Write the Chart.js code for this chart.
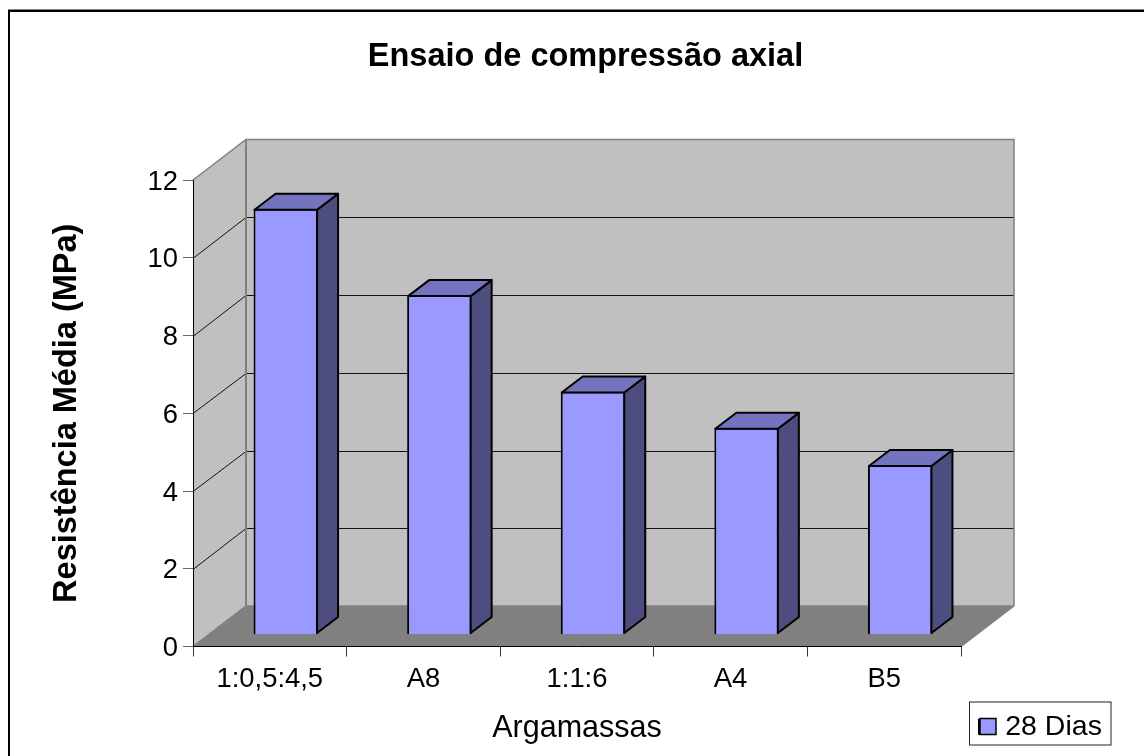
<!DOCTYPE html>
<html lang="pt">
<head>
<meta charset="utf-8">
<title>Ensaio de compressão axial</title>
<script src="https://cdn.jsdelivr.net/npm/chart.js@4"></script>
<style>
html,body{margin:0;padding:0;background:#fff}
canvas{display:block}
</style>
</head>
<body>
<canvas id="grafico" width="1144" height="756"></canvas>
<script>
// Chart values
const categories = ['1:0,5:4,5', 'A8', '1:1:6', 'A4', 'B5'];
const resistencia28Dias = [10.95, 8.73, 6.25, 5.32, 4.36];
const yTicks = [0, 2, 4, 6, 8, 10, 12];
const seriesName = '28 Dias';
const chartTitle = 'Ensaio de compressão axial';
const xTitle = 'Argamassas';
const yTitle = 'Resistência Média (MPa)';

// Perspective of the box the bars stand in
const FONT = '"Liberation Sans", Arial, sans-serif';
const BOX_DX = 53, BOX_DY = -40.5;    // front plane to back wall
const BAR_DX = 16, BAR_DY = -12;      // front plane to bar front
const SIDE_DX = 21, SIDE_DY = -16;    // bar front to bar back
const AREA = {left: 193, right: 961, top: 180, bottom: 646.5};

function poly(ctx, pts, fill, stroke, lw) {
  ctx.beginPath();
  pts.forEach((p, i) => i ? ctx.lineTo(p[0], p[1]) : ctx.moveTo(p[0], p[1]));
  ctx.closePath();
  if (fill) { ctx.fillStyle = fill; ctx.fill(); }
  if (stroke) { ctx.strokeStyle = stroke; ctx.lineWidth = lw; ctx.lineJoin = 'round'; ctx.stroke(); }
}

const box3d = {
  id: 'box3d',
  afterLayout(chart) {
    // Title is centred over the whole box; legend goes to the lower corner
    const t = chart.titleBlock;
    t.left += 105; t.right += 105;
    const l = chart.legend, w = l.width, h = l.height;
    l.left = 969; l.right = 969 + w; l.top = 702.5; l.bottom = 702.5 + h;
  },
  beforeDraw(chart) {
    const c = chart.ctx, a = chart.chartArea, y = chart.scales.y;
    const L = a.left, R = a.right, T = a.top, B = a.bottom;
    c.save();
    c.fillStyle = '#fff';
    c.fillRect(0, 0, chart.width, chart.height);

    // outer chart frame, open past the canvas edge on the right and bottom
    c.strokeStyle = '#000'; c.lineWidth = 2;
    c.strokeRect(9, 11, chart.width + 20, chart.height + 20);
    c.strokeStyle = '#808080'; c.lineWidth = 1;
    c.beginPath(); c.moveTo(8, 9.5); c.lineTo(chart.width, 9.5); c.stroke();

    // back wall, side wall, floor
    poly(c, [[L + BOX_DX, T + BOX_DY], [R + BOX_DX, T + BOX_DY], [R + BOX_DX, B + BOX_DY], [L + BOX_DX, B + BOX_DY]], '#c0c0c0');
    poly(c, [[L, T], [L + BOX_DX, T + BOX_DY], [L + BOX_DX, B + BOX_DY], [L, B]], '#c0c0c0');
    poly(c, [[L, B], [L + BOX_DX, B + BOX_DY], [R + BOX_DX, B + BOX_DY], [R, B]], '#808080');

    // gridlines run across the side wall and the back wall
    c.strokeStyle = '#111'; c.lineWidth = 1;
    yTicks.slice(1, -1).forEach(v => {
      const fy = y.getPixelForValue(v);
      const by = Math.round(fy + BOX_DY) + 0.5;
      c.beginPath();
      c.moveTo(L, Math.round(fy) + 0.5);
      c.lineTo(L + BOX_DX, by);
      c.lineTo(R + BOX_DX, by);
      c.stroke();
    });

    // box edges
    c.strokeStyle = '#808080';
    c.lineWidth = 1.5;
    c.beginPath();
    c.moveTo(L, T); c.lineTo(L + BOX_DX, T + BOX_DY); c.lineTo(R + BOX_DX, T + BOX_DY);
    c.lineTo(R + BOX_DX, B + BOX_DY); c.lineTo(R, B);
    c.moveTo(L, B); c.lineTo(L + BOX_DX, B + BOX_DY); c.lineTo(R + BOX_DX, B + BOX_DY);
    c.stroke();
    c.lineWidth = 2;
    c.beginPath();
    c.moveTo(L + BOX_DX, T + BOX_DY); c.lineTo(L + BOX_DX, B + BOX_DY);
    c.stroke();

    // legend frame
    c.fillStyle = '#fff';
    c.strokeStyle = '#222'; c.lineWidth = 1;
    c.fillRect(969.5, 702, 141.5, 43);
    c.strokeRect(969.5, 702, 141.5, 43);
    c.restore();
  },
  beforeDatasetDraw(chart) {
    chart.ctx.save();
    chart.ctx.translate(BAR_DX, BAR_DY);
  },
  afterDatasetDraw(chart, args) {
    // Top and side faces extend each library-placed bar into depth
    const c = chart.ctx;
    args.meta.data.forEach(b => {
      const x1 = b.x + b.width / 2 - 1, x0 = b.x - b.width / 2 + 1;
      const top = b.y + 1, base = b.base - 1;
      poly(c, [[x1, top], [x1 + SIDE_DX, top + SIDE_DY], [x1 + SIDE_DX, base + SIDE_DY], [x1, base]], '#4d4d7f', '#000', 2);
      poly(c, [[x0, top], [x0 + SIDE_DX, top + SIDE_DY], [x1 + SIDE_DX, top + SIDE_DY], [x1, top]], '#7373bf', '#000', 2);
    });
    c.restore();
  },
  afterDraw(chart) {
    // legend swatch at its full square size
    const c = chart.ctx;
    c.save();
    c.fillStyle = '#9999ff';
    c.strokeStyle = '#000';
    c.lineWidth = 1.5;
    c.fillRect(980, 718.5, 16, 16);
    c.strokeRect(980, 718.5, 16, 16);
    c.restore();
  }
};

new Chart(document.getElementById('grafico'), {
  type: 'bar',
  data: {
    labels: categories,
    datasets: [{
      label: seriesName,
      data: resistencia28Dias,
      backgroundColor: '#9999ff',
      borderColor: '#000',
      borderWidth: 2,
      categoryPercentage: 0.42,
      barPercentage: 1,
      clip: false
    }]
  },
  plugins: [box3d],
  options: {
    responsive: false,
    animation: false,
    events: [],
    layout: {padding: {right: 1144 - AREA.right}},
    plugins: {
      tooltip: {enabled: false},
      title: {
        display: true,
        text: chartTitle,
        color: '#000',
        font: {family: FONT, size: 32.5, weight: 'bold', lineHeight: 1.2},
        padding: {top: 37.5, bottom: 180 - 37.5 - 39}
      },
      legend: {
        position: 'chartArea',
        align: 'start',
        labels: {
          color: '#000',
          font: {family: FONT, size: 28.5},
          boxWidth: 12,
          boxHeight: 14,
          padding: 10
        }
      }
    },
    scales: {
      x: {
        afterFit(s) { s.height = 756 - AREA.bottom; },
        grid: {drawOnChartArea: false, tickLength: 10, tickColor: '#333'},
        border: {color: '#000', width: 1},
        ticks: {color: '#000', font: {family: FONT, size: 27.4}, padding: 7, maxRotation: 0},
        title: {
          display: true,
          text: xTitle,
          color: '#000',
          font: {family: FONT, size: 30.5, weight: 'normal', lineHeight: 1.2},
          padding: {top: 0, bottom: 9}
        }
      },
      y: {
        min: 0,
        max: 12,
        afterFit(s) { s.width = AREA.left; },
        afterBuildTicks(s) { s.ticks = yTicks.map(value => ({value})); },
        grid: {drawOnChartArea: false, tickLength: 10, tickColor: '#666'},
        border: {color: '#000', width: 1},
        ticks: {color: '#000', font: {family: FONT, size: 27.4}, padding: 5, labelOffset: 2},
        title: {
          display: true,
          text: yTitle,
          color: '#000',
          font: {family: FONT, size: 32.5, weight: 'bold', lineHeight: 1.2},
          padding: {top: 48, bottom: 0}
        }
      }
    }
  }
});
</script>
</body>
</html>
